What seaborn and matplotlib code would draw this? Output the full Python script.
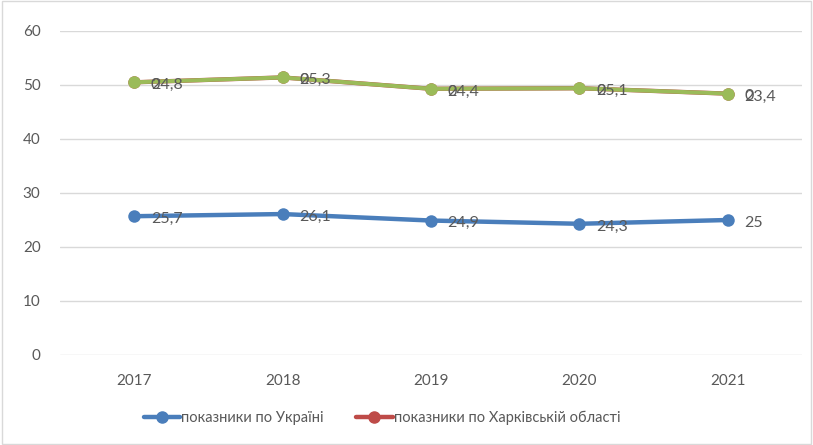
import numpy as np
import pandas as pd
import matplotlib.pyplot as plt
from matplotlib.lines import Line2D
import seaborn as sns

# Дані
roky = ["2017", "2018", "2019", "2020", "2021"]
ukraina = [25.7, 26.1, 24.9, 24.3, 25.0]
kharkiv = [24.8, 25.3, 24.4, 25.1, 23.4]
tretij = [0, 0, 0, 0, 0]   # третій ряд (нулі), накладений зверху

nazva_ua = "показники по Україні"
nazva_kh = "показники по Харківській області"

# Кольори
SYNIJ = "#4A7EBB"
CHERV = "#BE4B48"
ZELEN = "#9BBB59"
SIRYJ = "#595959"

sns.set_theme(style="white")
plt.rcParams["font.family"] = ["Lato", "DejaVu Sans"]

# накопичені значення (стекова лінійна діаграма)
stek_kh = np.array(ukraina) + np.array(kharkiv)
stek_3 = stek_kh + np.array(tretij)

df = pd.DataFrame({
    "x": list(range(len(roky))) * 3,
    "y": list(ukraina) + list(stek_kh) + list(stek_3),
    "ryad": ["ua"] * 5 + ["kh"] * 5 + ["t"] * 5,
})

fig = plt.figure(figsize=(8.13, 4.45), dpi=100)
ax = fig.add_axes([60 / 813, 1 - 355 / 445, (802 - 60) / 813, (355 - 31) / 445])

for ryad, kolir, lw in [("ua", SYNIJ, 3.2), ("kh", CHERV, 3.1), ("t", ZELEN, 2.9)]:
    sns.lineplot(data=df[df["ryad"] == ryad], x="x", y="y", ax=ax, color=kolir,
                 linewidth=lw, marker="o", markersize=9, markeredgewidth=0,
                 legend=False)

def pidpys(xs, ys, teksty):
    for x, y, t in zip(xs, ys, teksty):
        ax.annotate(t, (x, y), xytext=(12, -2), textcoords="offset points",
                    ha="left", va="center", fontsize=11.5, color=SIRYJ)

fmt = lambda v: f"{v:g}".replace(".", ",")
idx = range(len(roky))
pidpys(idx, ukraina, [fmt(v) for v in ukraina])
pidpys(idx, stek_kh, [fmt(v) for v in kharkiv])
pidpys(idx, stek_3, [fmt(v) for v in tretij])

ax.set_xlim(-0.5, len(roky) - 0.5)
ax.set_ylim(0, 60)
ax.set_yticks(range(0, 61, 10))
ax.set_xticks(list(idx))
ax.set_xticklabels(roky)
ax.set_xlabel("")
ax.set_ylabel("")
ax.yaxis.grid(True, color="#D9D9D9", linewidth=1)
ax.set_axisbelow(True)
for s in ax.spines.values():
    s.set_visible(False)
ax.tick_params(axis="both", length=0, labelsize=11, colors=SIRYJ)
ax.tick_params(axis="y", pad=14)
ax.tick_params(axis="x", pad=14)

ruchky = [Line2D([0], [0], color=SYNIJ, lw=3.2, marker="o", markersize=8),
          Line2D([0], [0], color=CHERV, lw=3.2, marker="o", markersize=8)]
fig.legend(ruchky, [nazva_ua, nazva_kh], loc="center", bbox_to_anchor=(0.47, 1 - 418 / 445),
           ncol=2, frameon=False, fontsize=10.5, handlelength=2.5, handletextpad=0.1,
           columnspacing=2.2, labelcolor=SIRYJ)

# рамка навколо діаграми
fig.patches.append(plt.Rectangle((0.002, 0.002), 0.996, 0.996, transform=fig.transFigure,
                                 fill=False, edgecolor="#D9D9D9", linewidth=1))

plt.savefig("out.png", dpi=100)
